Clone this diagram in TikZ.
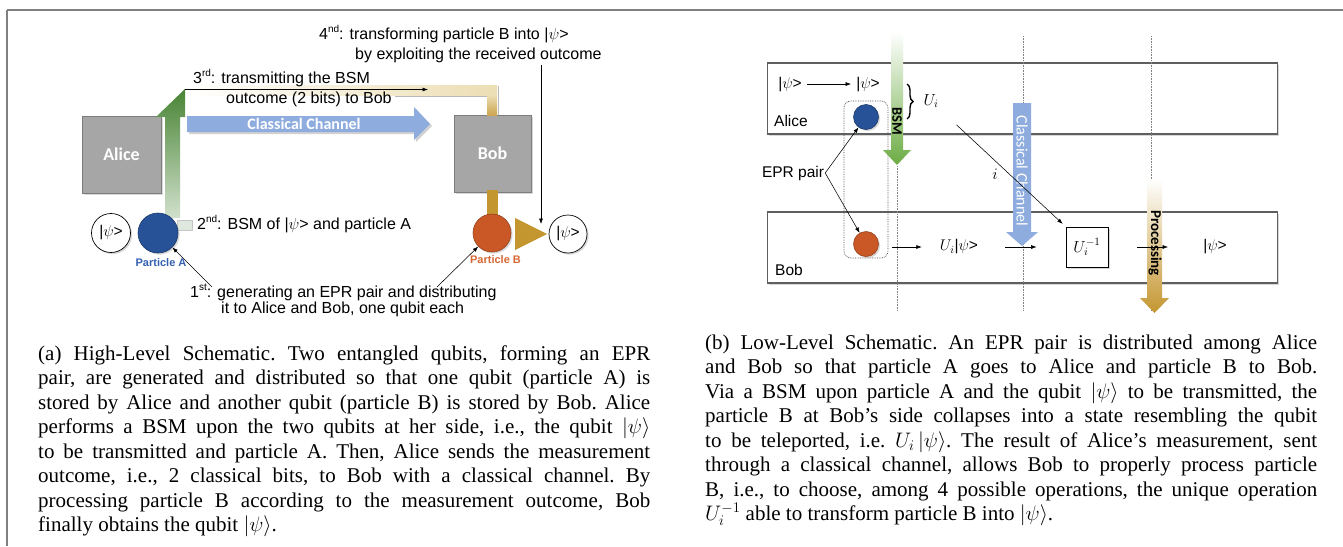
\RequirePackage{fix-cm}
\documentclass[tikz,border=0pt]{standalone}
\usepackage{fontspec}
\setmainfont{Liberation Serif}
\newfontfamily\arsf{Liberation Sans}
\newfontfamily\carlf{Carlito}
\usetikzlibrary{shadows,arrows.meta,decorations.pathreplacing,calc}
\definecolor{boxgray}{RGB}{166,166,166}
\definecolor{boxedge}{RGB}{125,125,125}
\definecolor{pblue}{RGB}{40,82,152}
\definecolor{porange}{RGB}{202,88,38}
\definecolor{lgreen}{RGB}{72,132,52}
\definecolor{bsmgreen}{RGB}{108,172,68}
\definecolor{ccblue}{RGB}{142,172,222}
\definecolor{gold}{RGB}{196,150,48}
\definecolor{cream}{RGB}{236,222,180}
\definecolor{labblue}{RGB}{52,96,176}
\definecolor{laborange}{RGB}{214,104,52}
\definecolor{framegray}{RGB}{128,128,128}
\definecolor{rowedge}{RGB}{95,95,95}
\definecolor{stubgreen}{RGB}{222,232,222}
\newcommand\mysups[1]{\raisebox{0.42em}{\fontsize{10}{10}\selectfont #1}}
\begin{document}
\begin{tikzpicture}[x=1pt,y=-1pt,
  sh/.style={drop shadow={shadow xshift=1.6pt,shadow yshift=-1.6pt,opacity=0.3}},
  graybox/.style={draw=boxedge, line width=0.8pt, fill=boxgray, text=white, font=\carlf\bfseries\fontsize{18}{20}\selectfont, inner sep=0pt, sh},
  psicirc/.style={circle, draw=black, line width=0.7pt, fill=white, minimum size=39pt, inner sep=0pt, font=\arsf\fontsize{15.5}{18}\selectfont, sh},
  ball/.style={circle, inner sep=0pt, line width=0.6pt, sh},
  lbl/.style={font=\arsf\fontsize{16}{19}\selectfont, inner sep=0pt, anchor=base west},
  rlbl/.style={font=\arsf\fontsize{15.5}{18}\selectfont, inner sep=1pt},
  plabel/.style={font=\arsf\bfseries\fontsize{11}{13}\selectfont, anchor=base, inner sep=0pt},
  arr/.style={-{Latex[length=5.5pt,width=4pt]}, line width=0.55pt},
  rowbox/.style={draw=rowedge, line width=1.2pt, fill=white, minimum width=510pt, minimum height=71pt, inner sep=0pt, sh},
  sepline/.style={densely dotted, draw=gray, line width=0.6pt},
  captext/.style={anchor=base west, inner sep=0pt, font=\fontsize{21}{24.5}\selectfont\frenchspacing},
]
\useasboundingbox (0,0) rectangle (1343,546);
\fill[white] (0,0) rectangle (1343,546);
\draw[framegray, line width=1.5pt] (7,10) -- (1343,10);
\draw[framegray, line width=1.5pt] (7,10) -- (7,546);

% ---------------- left: high-level schematic ----------------
\node[graybox, minimum width=79pt, minimum height=77pt] (alice) at (121.5,154.5) {Alice};
\node[graybox, minimum width=77pt, minimum height=77pt] (bob) at (492.5,153.5) {Bob};

% cream/gold L bar (3rd step)
\shade[left color=white, right color=cream] (185,85) rectangle (497,95);
\shade[top color=cream, bottom color=gold!85] (487,95) rectangle (497,115);
\draw[gray!55, line width=0.8pt] (395,96) -- (487,96);
\draw[gray!55, line width=0.8pt] (498,86) -- (498,115);

% green bent arrow (2nd step)
\shade[top color=lgreen, middle color=lgreen!90, bottom color=lgreen!25]
  (165,218) -- (165,117) -- (156,117) -- (185,89) -- (185,117) -- (180,117) -- (180,218) -- cycle;
\filldraw[fill=stubgreen, draw=gray!45, line width=0.4pt] (177,220) rectangle (192,230);

% classical channel arrow
\fill[gray!35] (189,118) -- (416,118) -- (416,109) -- (432,126) -- (416,142) -- (416,134) -- (189,134) -- cycle;
\fill[ccblue] (187,116) -- (414,116) -- (414,107) -- (430,124) -- (414,140) -- (414,132) -- (187,132) -- cycle;
\node[text=white, font=\carlf\bfseries\fontsize{16}{18}\selectfont, inner sep=0pt] (ccl) at (304,124) {Classical Channel};

% gold processing on Bob's side
\fill[gold] (486.5,190) rectangle (497.5,216);
\fill[gold] (515,218) -- (547,234) -- (515,250) -- cycle;

\node[psicirc] (psiA) at (111,233) {|$\psi$>};
\node[ball, fill=pblue, draw=pblue!70!black, minimum size=40pt] (pA) at (158,233) {};
\node[ball, fill=porange, draw=porange!75!black, minimum size=38pt] (pB) at (492,233) {};
\node[psicirc, minimum size=38pt] (psiB) at (568,234) {|$\psi$>};

\node[plabel, text=labblue] (labA) at (161,266) {Particle A};
\node[plabel, text=laborange] (labB) at (495.5,263) {Particle B};

\node[lbl] (t4a) at (319,39) {4\mysups{nd}: transforming particle B into |$\psi$>};
\node[lbl] (t4b) at (355,59) {by exploiting the received outcome};
\node[lbl] (t3a) at (193,83) {3\mysups{rd}: transmitting the BSM};
\node[lbl] (t3b) at (226,103) {outcome (2 bits) to Bob};
\node[lbl] (t2) at (197,229) {2\mysups{nd}: BSM of |$\psi$> and particle A};
\node[lbl] (t1a) at (190,297) {1\mysups{st}: generating an EPR pair and distributing};
\node[lbl] (t1b) at (221,313) {it to Alice and Bob, one qubit each};

\coordinate (gtip) at (185,89.5);
\coordinate (c3e) at (428,89.5);
\draw[arr] (gtip) -- (c3e);
\coordinate (c4s) at (541,65);
\coordinate (c4e) at (541,224);
\draw[arr] (c4s) -- (c4e);
\coordinate (c1a) at (212,287);
\draw[arr] (c1a) -- (pA);
\coordinate (c1b) at (437,287);
\draw[arr] (c1b) -- (pB);

% ---------------- right: low-level schematic ----------------
\node[rowbox] (arow) at (1022.5,98.5) {};
\node[rowbox] (brow) at (1022.5,247.5) {};

\draw[sepline] (897,166) -- (897,311);
\draw[sepline] (1023,36) -- (1023,311);
\draw[sepline] (1151,36) -- (1151,311);

\node[draw=black!70, densely dotted, line width=0.7pt, rounded corners=7pt, minimum width=44pt, minimum height=157pt, inner sep=0pt] (eprbox) at (866,179.5) {};
\node[ball, fill=pblue, draw=pblue!70!black, minimum size=25pt] (qa) at (866,117) {};
\node[ball, fill=porange, draw=porange!75!black, minimum size=25pt] (qb) at (866,244) {};

% BSM arrow
\shade[top color=white, bottom color=bsmgreen]
  (891,32) -- (903,32) -- (903,150) -- (911,150) -- (897,165) -- (883,150) -- (891,150) -- cycle;
\node[rotate=-90, font=\carlf\bfseries\fontsize{14.5}{16}\selectfont, inner sep=0pt] (bsm) at (897,121) {BSM};

% classical channel arrow
\fill[ccblue] (1013,103) -- (1031,103) -- (1031,232) -- (1038,232) -- (1022,246) -- (1006,232) -- (1013,232) -- cycle;
\node[rotate=-90, text=white, font=\carlf\fontsize{16}{18}\selectfont, inner sep=0pt] (ccr) at (1022,171) {Classical Channel};

% processing arrow
\shade[top color=white, bottom color=gold]
  (1147,179) -- (1162,179) -- (1162,298) -- (1169,298) -- (1154.5,313) -- (1140,298) -- (1147,298) -- cycle;
\node[rotate=-90, font=\carlf\bfseries\fontsize{15}{17}\selectfont, inner sep=0pt] (proc) at (1155,243) {Processing};

\node[rlbl, anchor=base] (psi1) at (790,88) {|$\psi$>};
\node[rlbl, anchor=base] (psi2) at (868,88) {|$\psi$>};
\draw[arr, shorten <=4pt, shorten >=4pt] (psi1) -- (psi2);

\node[rlbl, anchor=base west] (alab) at (773,126) {Alice};
\node[rlbl, anchor=base west] (blab) at (774,275) {Bob};
\node[rlbl] (epr) at (793,173) {EPR pair};
\draw[arr] (epr.east) -- (qa);
\draw[arr] (epr.east) -- (qb);

\draw[decorate, decoration={brace, amplitude=6pt}, line width=1.4pt] (907,84) -- (907,119);
\node[font=\fontsize{16}{18}\selectfont] (ui) at (931,101) {$U_i$};
\node[font=\fontsize{16}{18}\selectfont] (ilab) at (995,174) {$i$};

\node[rlbl] (uipsi) at (959,247) {$U_i$|$\psi$>};
\node[draw=black, line width=0.8pt, fill=white, minimum width=42pt, minimum height=40pt, inner sep=0pt, font=\fontsize{16}{18}\selectfont, sh] (uinv) at (1087,247) {$U_i^{-1}$};
\node[rlbl] (psi3) at (1215,247) {|$\psi$>};

\draw[arr, shorten <=13pt, shorten >=17pt] (qb.east |- uipsi.west) -- (uipsi.west);
\draw[arr, shorten <=26pt, shorten >=29pt] (uipsi.east) -- (uinv.west);
\draw[arr, shorten <=29pt, shorten >=34pt] (uinv.east) -- (psi3.west);
\draw[arr, shorten <=20pt, shorten >=4pt] (ui) -- (uinv.north west);

% ---------------- captions ----------------
\node[captext] (capa) at (38,360) {\vtop{\hsize=612pt\baselineskip=24.5pt\lineskiplimit=-100pt\lineskip=0pt
\hbox to\hsize{(a) High-Level Schematic. Two entangled qubits, forming an EPR}
\hbox to\hsize{pair, are generated and distributed so that one qubit (particle A) is}
\hbox to\hsize{stored by Alice and another qubit (particle B) is stored by Bob. Alice}
\hbox to\hsize{performs a BSM upon the two qubits at her side, i.e., the qubit $|\psi\rangle$}
\hbox to\hsize{to be transmitted and particle A. Then, Alice sends the measurement}
\hbox to\hsize{outcome, i.e., 2 classical bits, to Bob with a classical channel. By}
\hbox to\hsize{processing particle B according to the measurement outcome, Bob}
\hbox{finally obtains the qubit $|\psi\rangle$.}}};

\node[captext] (capb) at (705,349) {\vtop{\hsize=612pt\baselineskip=24.5pt\lineskiplimit=-100pt\lineskip=0pt
\hbox to\hsize{(b) Low-Level Schematic. An EPR pair is distributed among Alice}
\hbox to\hsize{and Bob so that particle A goes to Alice and particle B to Bob.}
\hbox to\hsize{Via a BSM upon particle A and the qubit $|\psi\rangle$ to be transmitted, the}
\hbox to\hsize{particle B at Bob's side collapses into a state resembling the qubit}
\hbox to\hsize{to be teleported, i.e. $U_i\,|\psi\rangle$. The result of Alice's measurement, sent}
\hbox to\hsize{through a classical channel, allows Bob to properly process particle}
\hbox to\hsize{B, i.e., to choose, among 4 possible operations, the unique operation}
\hbox{$U_i^{-1}$ able to transform particle B into $|\psi\rangle$.}}};
\end{tikzpicture}
\end{document}
